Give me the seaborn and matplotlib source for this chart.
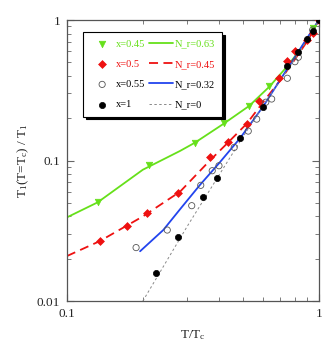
import numpy as np
import pandas as pd
import seaborn as sns
import matplotlib.pyplot as plt
from matplotlib.ticker import LogLocator, FixedLocator, FixedFormatter, NullFormatter

# data points
x045 = [0.1324, 0.212, 0.322, 0.421, 0.529, 0.635, 0.944, 1.0]
y045 = [0.0504, 0.0929, 0.134, 0.186, 0.245, 0.337, 0.873, 1.0]

x05 = [0.135, 0.1726, 0.207, 0.2765, 0.369, 0.437, 0.517, 0.578, 0.692, 0.745, 0.803, 0.894, 0.949, 1.0]
y05 = [0.0267, 0.0342, 0.0421, 0.0587, 0.1064, 0.1355, 0.183, 0.265, 0.388, 0.511, 0.602, 0.721, 0.804, 1.0]

x055 = [0.188, 0.250, 0.3126, 0.3395, 0.377, 0.401, 0.461, 0.524, 0.566, 0.615, 0.649, 0.749, 0.803, 0.828, 0.944]
y055 = [0.0240, 0.0320, 0.0477, 0.0666, 0.0846, 0.0918, 0.124, 0.162, 0.197, 0.260, 0.274, 0.385, 0.505, 0.543, 0.849]

x1 = [0.2256, 0.2757, 0.3456, 0.3926, 0.486, 0.598, 0.749, 0.828, 0.899, 0.949, 1.0]
y1 = [0.01574, 0.0287, 0.0552, 0.0747, 0.144, 0.2415, 0.473, 0.589, 0.729, 0.835, 1.0]

# model curves
lx063 = [0.1, 0.1324, 0.2, 0.281, 0.322, 0.421, 0.529, 0.635, 0.75, 0.85, 1.0]
ly063 = [0.0394, 0.0504, 0.086, 0.117, 0.134, 0.184, 0.245, 0.335, 0.47, 0.63, 1.0]

lx045 = [0.1, 0.135, 0.2, 0.281, 0.369, 0.437, 0.517, 0.6, 0.7, 0.8, 0.9, 1.0]
ly045 = [0.0209, 0.0267, 0.040, 0.060, 0.100, 0.135, 0.183, 0.26, 0.37, 0.52, 0.71, 1.0]

lx032 = [0.195, 0.241, 0.281, 0.337, 0.4, 0.486, 0.598, 0.749, 0.9, 1.0]
ly032 = [0.0226, 0.032, 0.045, 0.067, 0.095, 0.144, 0.24, 0.45, 0.75, 1.0]

lx0 = [0.2, 0.3, 0.4, 0.5, 0.6, 0.7, 0.8, 0.9, 1.0]
ly0 = [0.0100, 0.034, 0.078, 0.148, 0.245, 0.37, 0.52, 0.73, 1.0]

sns.set_style("ticks")
plt.rcParams['font.family'] = ['Liberation Serif', 'DejaVu Serif']
plt.rcParams['mathtext.fontset'] = 'custom'
plt.rcParams['mathtext.rm'] = 'Liberation Serif'
plt.rcParams['mathtext.it'] = 'Liberation Serif:italic'

GREEN = '#66e01a'
RED = '#ee1111'
BLUE = '#2244ee'
GRAY = '#888888'

fig = plt.figure(figsize=(3.34, 3.45), dpi=100)
ax = fig.add_axes([0.2006, 0.1275, 0.7544, 0.8145])

def line(x, y, **kw):
    sns.lineplot(data=pd.DataFrame({'x': x, 'y': y}), x='x', y='y', ax=ax,
                 sort=False, estimator=None, **kw)

line(lx063, ly063, color=GREEN, lw=1.3, label='N_r=0.63')
line(lx045, ly045, color=RED, lw=1.3, dashes=(5, 3), label='N_r=0.45')
line(lx032, ly032, color=BLUE, lw=1.3, label='N_r=0.32')
line(lx0, ly0, color=GRAY, lw=0.7, dashes=(2.5, 2.5), label='N_r=0')

sns.scatterplot(x=x045, y=y045, ax=ax, marker='v', s=22, color=GREEN, edgecolor=GREEN, linewidth=0.5, label='x=0.45', zorder=3)
sns.scatterplot(x=x05, y=y05, ax=ax, marker='D', s=16, color=RED, edgecolor=RED, linewidth=0.5, label='x=0.5', zorder=3)
sns.scatterplot(x=x055, y=y055, ax=ax, marker='o', s=20, facecolor='none', edgecolor='#555555', linewidth=0.6, label='x=0.55', zorder=3)
sns.scatterplot(x=x1, y=y1, ax=ax, marker='o', s=20, color='black', edgecolor='black', linewidth=0.5, label='x=1', zorder=3)

ax.set_xscale('log')
ax.set_yscale('log')
ax.set_xlim(0.1, 1)
ax.set_ylim(0.01, 1)

ax.xaxis.set_major_locator(FixedLocator([0.1, 1]))
ax.xaxis.set_major_formatter(FixedFormatter(['0.1', '1']))
ax.yaxis.set_major_locator(FixedLocator([0.01, 0.1, 1]))
ax.yaxis.set_major_formatter(FixedFormatter(['0.01', '0.1', '1']))
ax.xaxis.set_minor_locator(LogLocator(base=10, subs=np.arange(2, 10)))
ax.yaxis.set_minor_locator(LogLocator(base=10, subs=np.arange(2, 10)))
ax.xaxis.set_minor_formatter(NullFormatter())
ax.yaxis.set_minor_formatter(NullFormatter())
ax.tick_params(which='both', direction='in', top=True, right=True, color='#666666')
ax.tick_params(which='major', length=5, width=0.8, labelsize=9.5, pad=5)
ax.tick_params(which='minor', length=3, width=0.6)
for s in ax.spines.values():
    s.set_color('#555555')
    s.set_linewidth(0.9)

ax.set_xlabel(r'T/T$_\mathrm{c}$', fontsize=9.5, labelpad=6)
ax.set_ylabel(r'T$_\mathrm{1}$(T=T$_\mathrm{c}$) / T$_\mathrm{1}$', fontsize=9.5, labelpad=4)

handles, labels = ax.get_legend_handles_labels()
order = [labels.index(l) for l in ['x=0.45', 'x=0.5', 'x=0.55', 'x=1',
                                    'N_r=0.63', 'N_r=0.45', 'N_r=0.32', 'N_r=0']]
leg = ax.legend([handles[i] for i in order], [labels[i] for i in order],
                ncol=2, loc='upper left', bbox_to_anchor=(0.063, 0.957),
                frameon=True, fancybox=False, shadow={'color': 'black', 'alpha': 1},
                edgecolor='black', fontsize=7.5, labelspacing=1.05,
                columnspacing=0.3, handlelength=2.3, handletextpad=0.2,
                borderpad=0.7, borderaxespad=0)
leg.get_frame().set_linewidth(0.8)
text_colors = [GREEN, RED, 'black', 'black', GREEN, RED, 'black', 'black']
for t, c in zip(leg.get_texts(), text_colors):
    t.set_color(c)

fig.savefig('out.png', dpi=100)
